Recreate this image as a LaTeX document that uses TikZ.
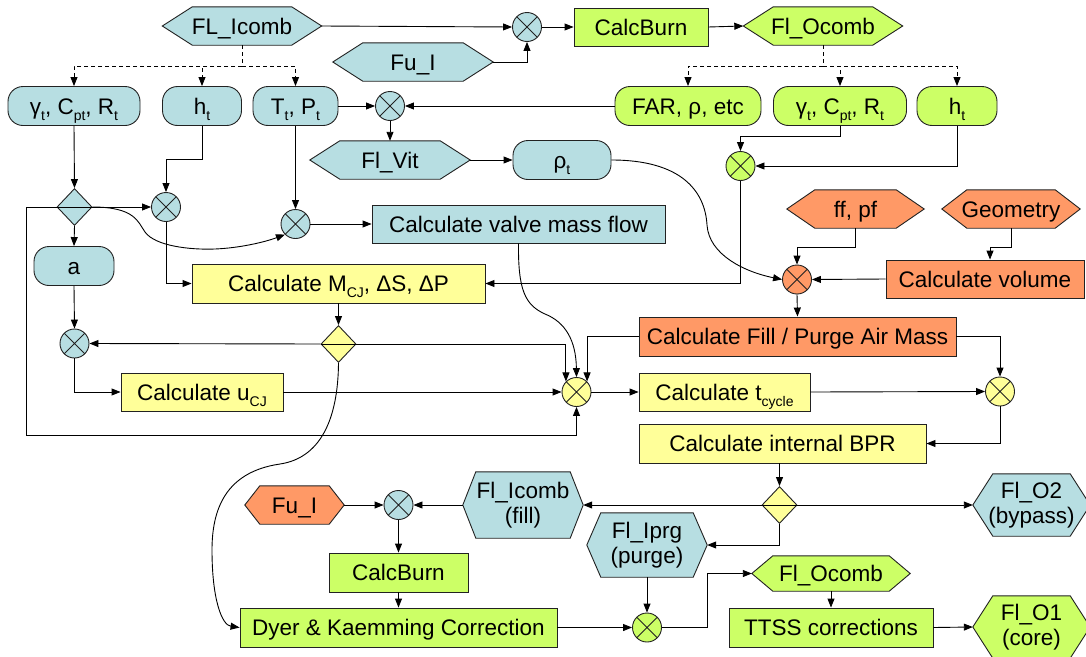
\documentclass[tikz,border=0pt]{standalone}
\usepackage{fontspec}
\setmainfont{Liberation Sans}
\usetikzlibrary{arrows.meta,backgrounds,shapes.geometric}

\definecolor{cblue}{HTML}{B7DEE2}
\definecolor{cgreen}{HTML}{CCFF66}
\definecolor{cyellow}{HTML}{FFFF99}
\definecolor{corange}{HTML}{FF9966}
\definecolor{edge}{HTML}{222222}

% lowered small index
\newcommand{\subx}[1]{\raisebox{-6pt}{\fontsize{14}{14}\selectfont #1}}
% hexagonal outline behind a (frameless) node: name, corner inset, fill
\newcommand{\hexat}[3]{%
  \begin{pgfonlayer}{background}
    \filldraw[fill=#3, shapeline]
      ([xshift=#2pt]#1.north west) -- ([xshift=-#2pt]#1.north east) -- (#1.east)
      -- ([xshift=-#2pt]#1.south east) -- ([xshift=#2pt]#1.south west) -- (#1.west) -- cycle;
  \end{pgfonlayer}}

\begin{document}
\begin{tikzpicture}[x=1pt,y=-1pt,
  shapeline/.style={draw=edge, line width=0.9pt},
  txt/.style={inner sep=0pt, align=center, font=\fontsize{22.5}{25}\selectfont},
  one/.style={text height=16.4pt, text depth=0pt},
  rect/.style={txt, one, shapeline, rectangle},
  rnd/.style={txt, one, shapeline, rounded corners=15pt},
  hexn/.style={txt},
  xc/.style={circle, shapeline, minimum size=29pt, inner sep=0pt,
    path picture={\draw[edge, line width=0.9pt]
      (path picture bounding box.north west) -- (path picture bounding box.south east)
      (path picture bounding box.south west) -- (path picture bounding box.north east);}},
  dia/.style={diamond, shapeline, minimum width=35pt, minimum height=37pt, inner sep=0pt},
  arr/.style={draw=black, line width=0.9pt, -{Triangle[length=9pt,width=7pt]}},
  ln/.style={draw=black, line width=0.9pt},
  dsh/.style={dash pattern=on 4pt off 3pt},
]
\useasboundingbox (0,0) rectangle (1086,656);
\begin{pgfonlayer}{background}
  \fill[white] (0,0) rectangle (1086,656);
\end{pgfonlayer}

% ---------- top row ----------
\node[hexn, one, minimum width=159pt, minimum height=38pt] (fli) at (242,26) {FL\_Icomb};
\hexat{fli}{30}{cblue}
\node[hexn, one, minimum width=160pt, minimum height=38pt] (fui) at (413,62) {Fu\_I};
\hexat{fui}{30}{cblue}
\node[xc, fill=cblue] (x1) at (527,27) {};
\node[rect, fill=cgreen, minimum width=134pt, minimum height=38pt] (cb1) at (641,27) {CalcBurn};
\node[hexn, one, minimum width=159pt, minimum height=38pt] (foc) at (823,26) {Fl\_Ocomb};
\hexat{foc}{30}{cgreen}

% ---------- property row ----------
\node[rnd, fill=cblue, minimum width=132pt, minimum height=39pt] (g1) at (74,106) {γ\subx{t}, C\subx{pt}, R\subx{t}};
\node[rnd, fill=cblue, minimum width=79pt, minimum height=39pt] (h1) at (202,106) {h\subx{t}};
\node[rnd, fill=cblue, minimum width=85pt, minimum height=39pt] (tp) at (295.5,106) {T\subx{t}, P\subx{t}};
\node[xc, fill=cblue] (x2) at (390,106) {};
\node[rnd, fill=cgreen, minimum width=146pt, minimum height=39pt] (far) at (688,106) {FAR, ρ, etc};
\node[rnd, fill=cgreen, minimum width=133pt, minimum height=39pt] (g2) at (840,106) {γ\subx{t}, C\subx{pt}, R\subx{t}};
\node[rnd, fill=cgreen, minimum width=80pt, minimum height=39pt] (h2) at (957,106) {h\subx{t}};

\node[hexn, one, minimum width=160pt, minimum height=38pt] (fv) at (390,160) {Fl\_Vit};
\hexat{fv}{30}{cblue}
\node[rnd, fill=cblue, minimum width=98pt, minimum height=39pt] (rho) at (562,160) {ρ\subx{t}};
\node[xc, fill=cgreen] (x3) at (740.5,166) {};

% ---------- middle ----------
\node[dia, fill=cblue] (d1) at (74.5,207) {};
\node[xc, fill=cblue] (x4) at (166,207) {};
\node[xc, fill=cblue] (x5) at (295.5,224) {};
\node[rect, fill=cblue, minimum width=293pt, minimum height=38pt] (vmf) at (518.5,224) {Calculate valve mass flow};
\node[hexn, one, minimum width=137pt, minimum height=38pt] (ffpf) at (855.5,209) {ff, pf};
\hexat{ffpf}{28}{corange}
\node[hexn, one, minimum width=138pt, minimum height=38pt] (geo) at (1011,209) {Geometry};
\hexat{geo}{25}{corange}

\node[rnd, fill=cblue, minimum width=80pt, minimum height=39pt] (a) at (74,266) {a};
\node[rect, fill=cyellow, minimum width=293pt, minimum height=39pt] (mcj) at (338.5,283.5) {Calculate M\subx{CJ}, ΔS, ΔP};
\node[xc, fill=corange] (x6) at (797,279.5) {};
\node[rect, fill=corange, minimum width=198pt, minimum height=38pt] (vol) at (985,279) {Calculate volume};
\node[rect, fill=corange, minimum width=317pt, minimum height=39pt] (fpm) at (797.5,336.5) {Calculate Fill / Purge Air Mass};

\node[xc, fill=cblue] (x7) at (74.5,343.5) {};
\node[dia, fill=cyellow] (d2) at (338.5,344) {};
\node[rect, fill=cyellow, minimum width=162pt, minimum height=38pt] (ucj) at (202,392) {Calculate u\subx{CJ}};
\node[xc, fill=cyellow] (x8) at (576.5,392) {};
\node[rect, fill=cyellow, minimum width=171pt, minimum height=38pt] (tcy) at (724.5,392) {Calculate t\subx{cycle}};
\node[xc, fill=cyellow] (x9) at (1000,391.5) {};
\node[rect, fill=cyellow, minimum width=287pt, minimum height=39pt] (bpr) at (782.5,443.5) {Calculate internal BPR};

% ---------- bottom ----------
\node[dia, fill=cyellow] (d3) at (779.5,505) {};
\node[hexn, minimum width=120pt, minimum height=66pt] (fil) at (523,505) {Fl\_Icomb\\(fill)};
\hexat{fil}{13}{cblue}
\node[hexn, minimum width=117pt, minimum height=62pt] (fo2) at (1031.5,505) {Fl\_O2\\(bypass)};
\hexat{fo2}{20}{cblue}
\node[hexn, one, minimum width=99pt, minimum height=38pt] (fu2) at (294.5,505) {Fu\_I};
\hexat{fu2}{15}{corange}
\node[xc, fill=cblue] (x10) at (398.5,505) {};
\node[hexn, minimum width=120pt, minimum height=64pt] (prg) at (647,545) {Fl\_Iprg\\(purge)};
\hexat{prg}{14}{cblue}
\node[rect, fill=cgreen, minimum width=139pt, minimum height=39pt] (cb2) at (398.5,572.5) {CalcBurn};
\node[hexn, one, minimum width=158pt, minimum height=35pt] (foc2) at (831,573.5) {Fl\_Ocomb};
\hexat{foc2}{21}{cgreen}
\node[rect, fill=cgreen, minimum width=317pt, minimum height=39pt] (dk) at (398.5,627.5) {Dyer \& Kaemming Correction};
\node[xc, fill=cgreen] (x11) at (647,627.5) {};
\node[rect, fill=cgreen, minimum width=204pt, minimum height=39pt] (tts) at (831,627.5) {TTSS corrections};
\node[hexn, minimum width=117pt, minimum height=62pt] (fo1) at (1031.5,627) {Fl\_O1\\(core)};
\hexat{fo1}{20}{cgreen}

% ---------- connectors: top ----------
\draw[arr] (fli.east) -- (x1.west);
\draw[arr] (fui.east) -| (x1.south);
\draw[arr] (x1.east) -- (cb1.west);
\draw[arr] (cb1.east) -- (foc.west);

\coordinate (ja) at (242,66);
\draw[ln,dsh] (fli.south) -- (ja);
\draw[arr,dsh] (ja) -| (g1.north);
\draw[arr,dsh] (ja) -| (h1.north);
\draw[arr,dsh] (ja) -| (tp.north);

\coordinate (jb) at (823,66);
\draw[ln,dsh] (foc.south) -- (jb);
\draw[arr,dsh] (jb) -| (far.north);
\draw[arr,dsh] (jb) -| (g2.north);
\draw[arr,dsh] (jb) -| (h2.north);

\draw[arr] (tp.east) -- (x2.west);
\draw[arr] (far.west) -- (x2.east);
\draw[arr] (x2.south) -- (fv.north);
\draw[arr] (fv.east) -- (rho.west);
\draw[arr] (rho.east) .. controls (680,160) and (705,190) .. (707,225)
                      .. controls (709,255) and (745,272) .. (x6.west);

\draw[arr] (g2.south) -- ++(0,10) -| (x3.north);
\draw[arr] (h2.south) |- (x3.east);
\draw[arr] (x3.south) |- (mcj.east);

% ---------- connectors: left ----------
\draw[arr] (g1.south) -- (d1.north);
\draw[arr] (h1.south) -- ++(0,33) -| (x4.north);
\draw[ln] (d1.west) -- (d1.east);
\draw[arr] (d1.east) -- (x4.west);
\draw[arr] (d1.east) .. controls (135,207) and (138,222) .. (145,232)
                     .. controls (155,246) and (190,250) .. (215,249)
                     .. controls (240,248) and (265,242) .. (x5.south west);
\draw[arr] (d1.west) -- ++(-30,0) -- ++(0,228) -| (x8.south);
\draw[arr] (d1.south) -- (a.north);
\draw[arr] (a.south) -- (x7.north);
\draw[arr] (x7.south) |- (ucj.west);
\draw[arr] (ucj.east) -- (x8.west);
\draw[arr] (x4.south) |- (mcj.west);
\draw[arr] (tp.south) -- (x5.north);
\draw[arr] (x5.east) -- (vmf.west);
\draw[arr] (vmf.south) .. controls (518,290) and (525,305) .. (545,314)
                       .. controls (565,322) and (576,340) .. (x8.north);
\draw[arr] (mcj.south) -- (d2.north);
\draw[ln] (d2.west) -- (d2.east);
\draw[arr] (d2.west) -- (x7.east);
\draw[arr] (d2.east) -| (x8.135);
\draw[arr] (d2.south) .. controls (338,420) and (320,458) .. (280,464)
                      .. controls (225,472) and (212,510) .. (212,550)
                      .. controls (212,600) and (222,625) .. (dk.west);

% ---------- connectors: right ----------
\draw[arr] (ffpf.south) -- ++(0,19) -| (x6.north);
\draw[arr] (geo.south) -- ++(0,19) -| ([xshift=5pt]vol.north);
\draw[arr] (vol.west) -- (x6.east);
\draw[arr] (x6.south) -- (fpm.north);
\draw[arr] (fpm.west) -| (x8.45);
\draw[arr] (fpm.east) -| (x9.north);
\draw[arr] (x8.east) -- (tcy.west);
\draw[arr] (tcy.east) -- (x9.west);
\draw[arr] (x9.south) |- (bpr.east);

% ---------- connectors: bottom ----------
\draw[arr] (d3.north |- bpr.south) -- (d3.north);
\draw[ln] (d3.west) -- (d3.east);
\draw[arr] (d3.east) -- (fo2.west);
\draw[arr] (d3.west) -- (fil.east);
\draw[arr] (d3.south) |- (prg.east);
\draw[arr] (fu2.east) -- (x10.west);
\draw[arr] (fil.west) -- (x10.east);
\draw[arr] (x10.south) -- (cb2.north);
\draw[arr] (cb2.south) -- (dk.north);
\draw[arr] (dk.east) -- (x11.west);
\draw[arr] (prg.south) -- (x11.north);
\draw[arr] (x11.east) -- ++(45,0) |- (foc2.west);
\draw[arr] (foc2.south) -- (tts.north);
\draw[arr] (tts.east) -- (fo1.west);
\end{tikzpicture}
\end{document}
